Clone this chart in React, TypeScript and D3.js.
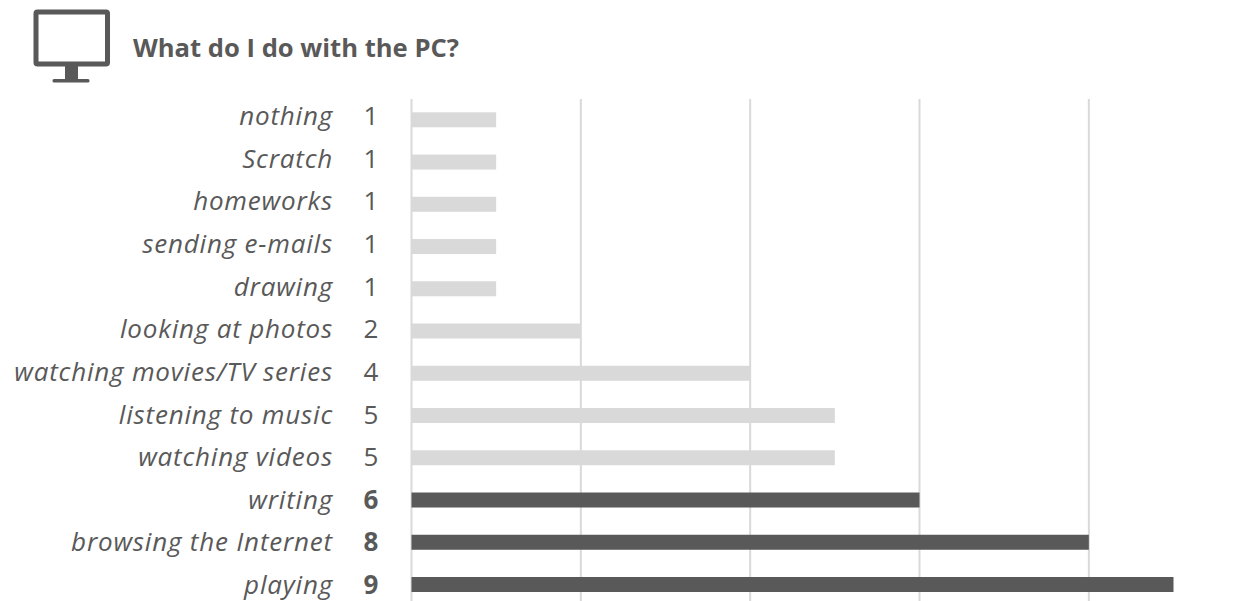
import React from "react";
import * as d3 from "d3";

// Survey answers, listed from the top row down
const activities = [
  "nothing",
  "Scratch",
  "homeworks",
  "sending e-mails",
  "drawing",
  "looking at photos",
  "watching movies/TV series",
  "listening to music",
  "watching videos",
  "writing",
  "browsing the Internet",
  "playing",
];
const counts = [1, 1, 1, 1, 1, 2, 4, 5, 5, 6, 8, 9];
const highlighted = ["writing", "browsing the Internet", "playing"];
const gridValues = [0, 2, 4, 6, 8];

const DARK = "#595959";
const LIGHT = "#d9d9d9";
const TEXT = "#595959";
const FONT = "'Open Sans', 'Noto Sans', sans-serif";

export default function App() {
  const x = d3.scaleLinear().domain([0, 9]).range([411.5, 1173.5]);
  const barY = d3.scalePoint<string>().domain(activities).range([119.8, 584.5]);
  const labelY = d3.scalePoint<string>().domain(activities).range([116, 585]);

  return (
    <svg
      width={1256}
      height={601}
      style={{ position: "absolute", left: 0, top: 0, background: "#fff", fontFamily: FONT }}
    >
      {/* Monitor icon beside the heading */}
      <g>
        <rect x={36} y={12} width={71.5} height={52} rx={1.5} fill="none" stroke={DARK} strokeWidth={5} />
        <rect x={65} y={66} width={13} height={13} fill={DARK} />
        <rect x={52.5} y={79} width={37} height={3.5} rx={1.5} fill={DARK} />
      </g>
      <text x={133} y={57} fontSize={25} fontWeight={700} fill={TEXT} textLength={326} lengthAdjust="spacingAndGlyphs">
        What do I do with the PC?
      </text>

      {/* Vertical gridlines */}
      {gridValues.map((v) => (
        <line key={v} x1={x(v)} x2={x(v)} y1={99} y2={601} stroke={LIGHT} strokeWidth={2} />
      ))}

      {/* Bars */}
      {activities.map((name, i) => (
        <rect
          key={name}
          x={x(0)}
          y={barY(name)! - 7.5}
          width={x(counts[i]) - x(0)}
          height={15}
          fill={highlighted.includes(name) ? DARK : LIGHT}
        />
      ))}

      {/* Row names and counts */}
      {activities.map((name, i) => (
        <g key={name} fill={TEXT} fontSize={26}>
          <text x={333} y={labelY(name)} dy="0.35em" textAnchor="end" fontStyle="italic" letterSpacing={0.8}>
            {name}
          </text>
          <text
            x={371}
            y={labelY(name)}
            dy="0.35em"
            textAnchor="middle"
            fontWeight={highlighted.includes(name) ? 700 : 400}
          >
            {counts[i]}
          </text>
        </g>
      ))}
    </svg>
  );
}
